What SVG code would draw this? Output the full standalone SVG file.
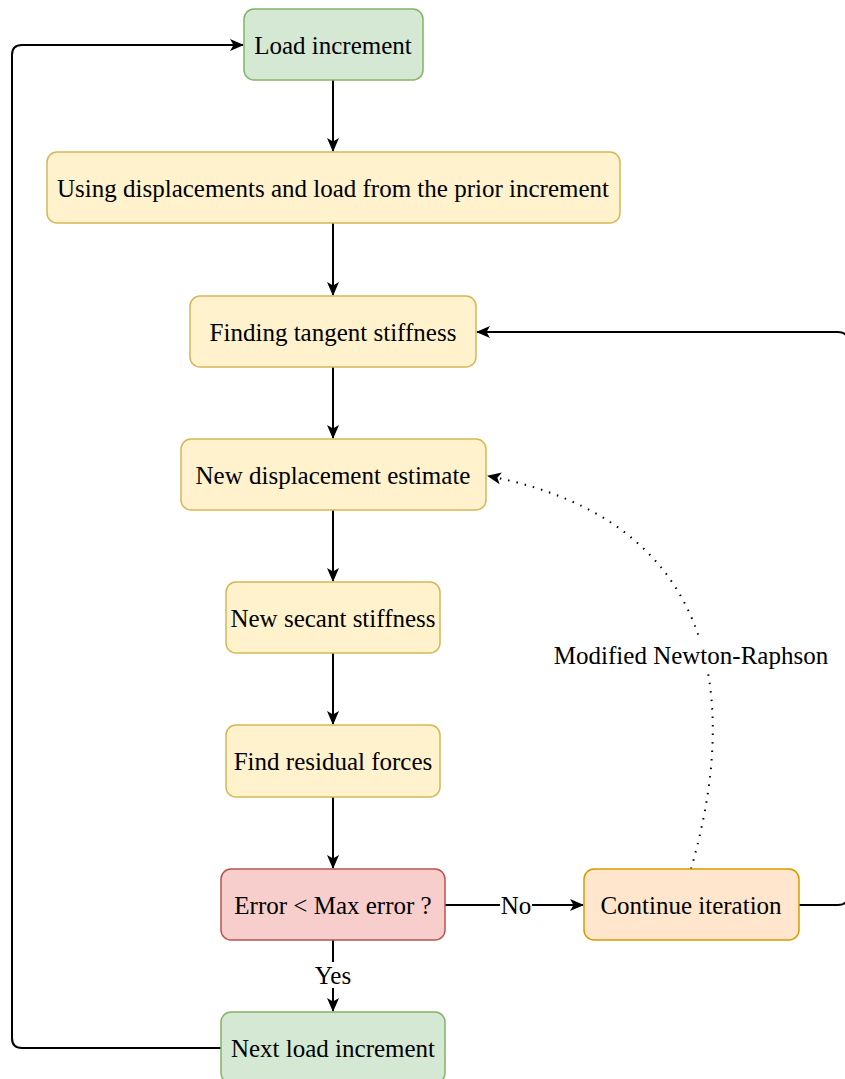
<svg xmlns="http://www.w3.org/2000/svg" width="845" height="1079" viewBox="0 0 845 1079">
<style>
.box{stroke-width:1.5}
.y{fill:#fff2cc;stroke:#d6b656}
.g{fill:#d5e8d4;stroke:#82b366}
.r{fill:#f8cecc;stroke:#b85450}
.o{fill:#ffe6cc;stroke:#d79b00}
text{font-family:"Liberation Serif","Times New Roman",serif;font-size:25px;fill:#000;text-anchor:middle;dominant-baseline:central}
.e{fill:none;stroke:#000;stroke-width:2}
</style>
<defs>
<marker id="a" viewBox="0 0 14 12" refX="13" refY="6" markerWidth="14" markerHeight="12" markerUnits="userSpaceOnUse" orient="auto">
<path d="M0,0 L14,6 L0,12 L3.5,6 Z" fill="#000"/>
</marker>
</defs>
<g id="connectors">
<path class="e" d="M333,80 V151" marker-end="url(#a)"/>
<path class="e" d="M333,223 V295" marker-end="url(#a)"/>
<path class="e" d="M333,367 V438" marker-end="url(#a)"/>
<path class="e" d="M333,510 V581" marker-end="url(#a)"/>
<path class="e" d="M333,653 V724" marker-end="url(#a)"/>
<path class="e" d="M333,797 V868" marker-end="url(#a)"/>
<path class="e" d="M333,940 V1011" marker-end="url(#a)"/>
<path class="e" d="M445,905 H583" marker-end="url(#a)"/>
<path class="e" d="M799,905 H838 Q848,905 848,895 V342 Q848,332 838,332 H477" marker-end="url(#a)"/>
<path class="e" d="M221,1048 H22 Q12,1048 12,1038 V55 Q12,45 22,45 H243" marker-end="url(#a)"/>
<path class="e" d="M691,869 C740,700 720,520 488,476" stroke-dasharray="1.5 7" marker-end="url(#a)"/>
<rect x="500" y="893" width="32" height="24" fill="#fff"/>
<text x="516" y="905">No</text>
<rect x="314" y="962" width="38" height="26" fill="#fff"/>
<text x="333" y="975">Yes</text>
<rect x="552" y="641" width="278" height="28" fill="#fff"/>
<text x="691" y="655">Modified Newton-Raphson</text>
</g>
<g id="n1"><rect class="box g" x="244" y="9" width="179" height="71" rx="10"/><text x="333" y="45">Load increment</text></g>
<g id="n2"><rect class="box y" x="47" y="152" width="573" height="71" rx="10"/><text x="333" y="188">Using displacements and load from the prior increment</text></g>
<g id="n3"><rect class="box y" x="190" y="296" width="286" height="71" rx="10"/><text x="333" y="332">Finding tangent stiffness</text></g>
<g id="n4"><rect class="box y" x="181" y="439" width="305" height="71" rx="10"/><text x="333" y="475">New displacement estimate</text></g>
<g id="n5"><rect class="box y" x="226" y="582" width="214" height="71" rx="10"/><text x="333" y="618">New secant stiffness</text></g>
<g id="n6"><rect class="box y" x="226" y="725" width="214" height="72" rx="10"/><text x="333" y="761">Find residual forces</text></g>
<g id="n7"><rect class="box r" x="221" y="869" width="224" height="71" rx="10"/><text x="333" y="905">Error &lt; Max error ?</text></g>
<g id="n8"><rect class="box o" x="584" y="869" width="215" height="71" rx="10"/><text x="691" y="905">Continue iteration</text></g>
<g id="n9"><rect class="box g" x="221" y="1012" width="224" height="71" rx="10"/><text x="333" y="1048">Next load increment</text></g>
</svg>
